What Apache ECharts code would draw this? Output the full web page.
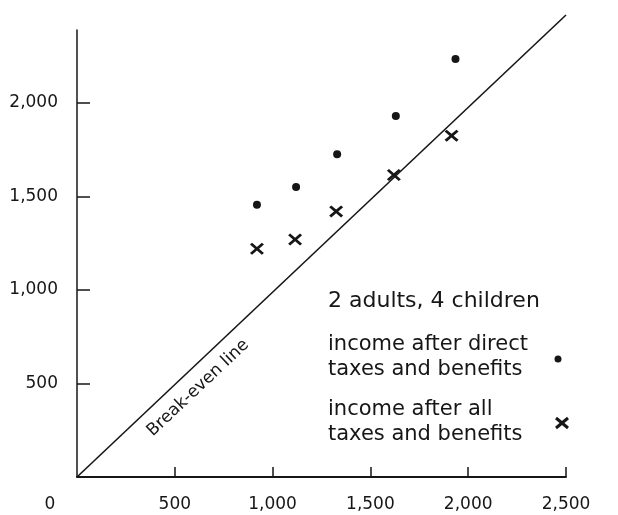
<!DOCTYPE html>
<html>
<head>
<meta charset="utf-8">
<script src="https://cdn.jsdelivr.net/npm/echarts@6/dist/echarts.min.js"></script>
<style>
  html, body { margin: 0; padding: 0; background: #fff; }
  #chart { width: 618px; height: 515px; }
</style>
</head>
<body>
<div id="chart"></div>
<script>
// Original income (x) and income after taxes/benefits (y)
var directIncome = [920, 1120, 1330, 1630, 1935];
var directAfter  = [1455, 1550, 1725, 1930, 2235];
var allIncome    = [920, 1115, 1325, 1620, 1915];
var allAfter     = [1220, 1270, 1420, 1615, 1825];
var breakEvenX   = [0, 2500];
var breakEvenY   = [0, 2470];
var xTickLabels  = [0, 500, 1000, 1500, 2000, 2500];
var yTickLabels  = [500, 1000, 1500, 2000];

var INK = '#161616';
var FONT = 'DejaVu Sans';
var CROSS = 'path://M0,1.5L1.5,0L5,3.5L8.5,0L10,1.5L6.5,5L10,8.5L8.5,10L5,6.5L1.5,10L0,8.5L3.5,5Z';

function fmt(v) { return v.toLocaleString('en-US'); }
function zip(a, b) { return a.map(function (v, i) { return [v, b[i]]; }); }

var chart = echarts.init(document.getElementById('chart'), null, { renderer: 'canvas' });
chart.setOption({
  backgroundColor: '#ffffff',
  animation: false,
  grid: { left: 77, right: 52, top: 30, bottom: 38 },
  xAxis: {
    type: 'value', min: 0, max: 2500, interval: 500,
    splitLine: { show: false },
    axisLine: { show: true, onZero: false, lineStyle: { color: INK, width: 1.8 } },
    axisTick: { show: true, inside: true, length: 10, lineStyle: { color: INK, width: 1.5 },
                customValues: xTickLabels.slice(1) },
    axisLabel: {
      customValues: xTickLabels,
      color: INK, fontFamily: FONT, fontSize: 17, margin: 19,
      formatter: function (v) { return v === 0 ? '{z|0}' : fmt(v); },
      rich: { z: { fontFamily: FONT, fontSize: 17, color: INK, padding: [0, 54, 0, 0] } }
    }
  },
  yAxis: {
    type: 'value', min: 0, max: 2390, interval: 500,
    splitLine: { show: false },
    axisLine: { show: true, onZero: false, lineStyle: { color: INK, width: 1.5 } },
    axisTick: { show: true, inside: true, length: 13, lineStyle: { color: INK, width: 1.5 },
                customValues: yTickLabels },
    axisLabel: {
      customValues: yTickLabels,
      color: INK, fontFamily: FONT, fontSize: 17, margin: 19,
      formatter: function (v) { return fmt(v); }
    }
  },
  series: [
    {
      name: 'Break-even line', type: 'line', clip: false,
      data: zip(breakEvenX, breakEvenY),
      symbol: 'none', silent: true,
      lineStyle: { color: INK, width: 1.6 }
    },
    {
      name: 'income after direct taxes and benefits', type: 'scatter',
      data: zip(directIncome, directAfter),
      symbol: 'circle', symbolSize: 8,
      itemStyle: { color: INK, opacity: 1 }
    },
    {
      name: 'income after all taxes and benefits', type: 'scatter',
      data: zip(allIncome, allAfter),
      symbol: CROSS, symbolSize: [14, 12],
      itemStyle: { color: INK, opacity: 1 }
    }
  ],
  graphic: [
    { type: 'text', x: 198, y: 388, rotation: 0.756,
      style: { text: 'Break-even line', fill: INK, font: '17px "DejaVu Sans"', align: 'center', verticalAlign: 'middle' } },
    { type: 'text', x: 328, y: 301,
      style: { text: '2 adults, 4 children', fill: INK, font: '22px "DejaVu Sans"', align: 'left', verticalAlign: 'middle' } },
    { type: 'text', x: 328, y: 345,
      style: { text: 'income after direct', fill: INK, font: '21px "DejaVu Sans"', align: 'left', verticalAlign: 'middle' } },
    { type: 'text', x: 328, y: 370,
      style: { text: 'taxes and benefits', fill: INK, font: '21px "DejaVu Sans"', align: 'left', verticalAlign: 'middle' } },
    { type: 'text', x: 328, y: 410,
      style: { text: 'income after all', fill: INK, font: '21px "DejaVu Sans"', align: 'left', verticalAlign: 'middle' } },
    { type: 'text', x: 328, y: 435,
      style: { text: 'taxes and benefits', fill: INK, font: '21px "DejaVu Sans"', align: 'left', verticalAlign: 'middle' } },
    { type: 'circle', shape: { cx: 558, cy: 359, r: 3.5 }, style: { fill: INK } },
    { type: 'line', shape: { x1: 556, y1: 418, x2: 568, y2: 428 }, style: { stroke: INK, lineWidth: 3 } },
    { type: 'line', shape: { x1: 556, y1: 428, x2: 568, y2: 418 }, style: { stroke: INK, lineWidth: 3 } }
  ]
});
</script>
</body>
</html>
